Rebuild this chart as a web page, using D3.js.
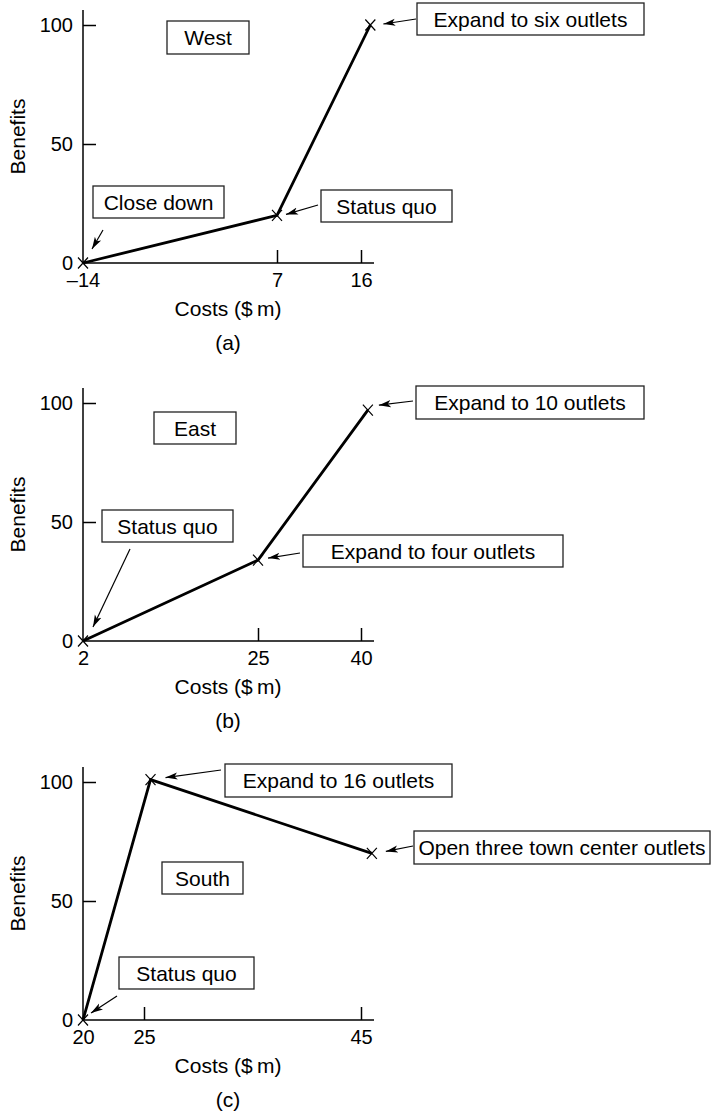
<!DOCTYPE html>
<html>
<head>
<meta charset="utf-8">
<script src="https://cdn.jsdelivr.net/npm/d3@7"></script>
<style>
  html, body { margin: 0; padding: 0; background: #fff; }
  svg { display: block; font-family: "Liberation Sans", Arial, Helvetica, sans-serif; }
</style>
</head>
<body>
<svg id="chart" width="711" height="1113"></svg>
<script>
// ---------------- DATA ----------------
const panelNames = ["West", "East", "South"];
const panelLetters = ["(a)", "(b)", "(c)"];
const yTicks = [0, 50, 100];
const xAxisTitle = "Costs ($\u2009m)";
const yAxisTitle = "Benefits";

const westCosts = [-14, 7, 17];
const westBenefits = [0, 20, 100];
const westXTicks = [-14, 7, 16];
const westLabels = ["Close down", "Status quo", "Expand to six outlets"];

const eastCosts = [2, 25, 41];
const eastBenefits = [0, 34, 97];
const eastXTicks = [2, 25, 40];
const eastLabels = ["Status quo", "Expand to four outlets", "Expand to 10 outlets"];

const southCosts = [20, 25.6, 46];
const southBenefits = [0, 101, 70];
const southXTicks = [20, 25, 45];
const southLabels = ["Status quo", "Expand to 16 outlets", "Open three town center outlets"];

// ---------------- LAYOUT ----------------
const layout = [
  { y0: 263, tickPx: [83, 277, 361],
    title: [167, -242, 82, 33],
    ann: [ { box: [93, -77, 131, 32],  from: [103, -33],  off: [9, -14] },
           { box: [321, -73, 131, 32], from: [318, -58],  off: [9, -1] },
           { box: [417, -260, 227, 32], from: [416, -244], off: [13, -1] } ] },
  { y0: 641, tickPx: [83, 258, 361],
    title: [154, -229, 82, 32],
    ann: [ { box: [102, -131, 131, 32], from: [130, -92],  off: [10, -14] },
           { box: [303, -106, 260, 32], from: [300, -88],  off: [10, -2] },
           { box: [416, -255, 228, 33], from: [413, -240], off: [11, -5] } ] },
  { y0: 1020, tickPx: [83, 144, 361],
    title: [162, -158, 81, 32],
    ann: [ { box: [119, -63, 135, 32],  from: [117, -24],  off: [8, -7] },
           { box: [225, -256, 227, 33], from: [221, -250], off: [15, -2] },
           { box: [414, -189, 296, 33], from: [413, -174], off: [14, -2] } ] }
];

const panelData = [
  { costs: westCosts, benefits: westBenefits, ticks: westXTicks, labels: westLabels },
  { costs: eastCosts, benefits: eastBenefits, ticks: eastXTicks, labels: eastLabels },
  { costs: southCosts, benefits: southBenefits, ticks: southXTicks, labels: southLabels }
];

const FONT = 21, TICKFONT = 20;
const axisLeftX = 83, axisRightX = 374;
const yTopPx = 253, y100Px = 238;

const svg = d3.select("#chart");
const defs = svg.append("defs");
defs.append("marker")
  .attr("id", "arrow")
  .attr("viewBox", "-12 -5 13 10")
  .attr("refX", 0).attr("refY", 0)
  .attr("markerWidth", 13).attr("markerHeight", 10)
  .attr("markerUnits", "userSpaceOnUse")
  .attr("orient", "auto")
  .append("path")
  .attr("d", "M0,0 L-12,-3.6 L-9,0 L-12,3.6 Z")
  .attr("fill", "#000");

panelData.forEach((pd, i) => {
  const L = layout[i];
  const y0 = L.y0;
  const g = svg.append("g");

  const x = d3.scaleLinear().domain(pd.ticks).range(L.tickPx);
  const y = d3.scaleLinear().domain([0, 100]).range([y0, y0 - y100Px]);

  // axes lines
  g.append("line").attr("x1", axisLeftX).attr("x2", axisLeftX)
    .attr("y1", y0).attr("y2", y0 - yTopPx)
    .attr("stroke", "#000").attr("stroke-width", 1.5);
  g.append("line").attr("x1", axisLeftX).attr("x2", axisRightX)
    .attr("y1", y0).attr("y2", y0)
    .attr("stroke", "#000").attr("stroke-width", 1.5);

  // y axis ticks
  const ya = g.append("g").attr("transform", `translate(${axisLeftX},0)`)
    .call(d3.axisLeft(y).tickValues(yTicks).tickSize(-13).tickSizeOuter(0).tickPadding(10));
  ya.select(".domain").remove();
  ya.selectAll(".tick line").attr("stroke", "#000").attr("stroke-width", 1.5)
    .filter(d => d === 0).remove();
  ya.selectAll(".tick text").attr("font-size", TICKFONT).attr("font-family", null)
    .attr("dy", "0.3em").attr("fill", "#000");

  // x axis ticks
  const xa = g.append("g").attr("transform", `translate(0,${y0})`)
    .call(d3.axisBottom(x).tickValues(pd.ticks).tickSize(-13).tickSizeOuter(0).tickPadding(10)
      .tickFormat(d => d < 0 ? "\u2013" + Math.abs(d) : String(d)));
  xa.select(".domain").remove();
  xa.selectAll(".tick line").attr("stroke", "#000").attr("stroke-width", 1.5)
    .filter((d, k) => k === 0).remove();
  xa.selectAll(".tick text").attr("font-size", TICKFONT).attr("font-family", null).attr("fill", "#000");

  // axis titles
  g.append("text").attr("x", 228).attr("y", y0 + 53)
    .attr("text-anchor", "middle").attr("font-size", FONT).text(xAxisTitle);
  g.append("text").attr("x", 228).attr("y", y0 + 87)
    .attr("text-anchor", "middle").attr("font-size", FONT).text(panelLetters[i]);
  g.append("text")
    .attr("transform", `translate(25,${y0 - yTopPx / 2}) rotate(-90)`)
    .attr("text-anchor", "middle").attr("font-size", FONT).text(yAxisTitle);

  // data line
  const pts = pd.costs.map((c, k) => [x(c), y(pd.benefits[k])]);
  g.append("path").datum(pts)
    .attr("d", d3.line())
    .attr("fill", "none").attr("stroke", "#000").attr("stroke-width", 2.8)
    .attr("stroke-linejoin", "miter");

  // X markers
  g.selectAll(".mk").data(pts).enter().append("path")
    .attr("d", p => `M${p[0]-5},${p[1]-5.5}L${p[0]+5},${p[1]+5.5}M${p[0]-5},${p[1]+5.5}L${p[0]+5},${p[1]-5.5}`)
    .attr("stroke", "#000").attr("stroke-width", 1.2).attr("fill", "none");

  // boxes
  const drawBox = (b, txt) => {
    g.append("rect").attr("x", b[0]).attr("y", y0 + b[1]).attr("width", b[2]).attr("height", b[3])
      .attr("fill", "#fff").attr("stroke", "#222").attr("stroke-width", 1.3);
    g.append("text").attr("x", b[0] + b[2] / 2).attr("y", y0 + b[1] + b[3] / 2)
      .attr("dy", "0.36em").attr("text-anchor", "middle").attr("font-size", FONT).text(txt);
  };
  drawBox(L.title, panelNames[i]);

  // annotations
  L.ann.forEach((a, k) => {
    drawBox(a.box, pd.labels[k]);
    const p = pts[k];
    g.append("line")
      .attr("x1", a.from[0]).attr("y1", y0 + a.from[1])
      .attr("x2", p[0] + a.off[0]).attr("y2", p[1] + a.off[1])
      .attr("stroke", "#000").attr("stroke-width", 1.2)
      .attr("marker-end", "url(#arrow)");
  });
});
</script>
</body>
</html>
